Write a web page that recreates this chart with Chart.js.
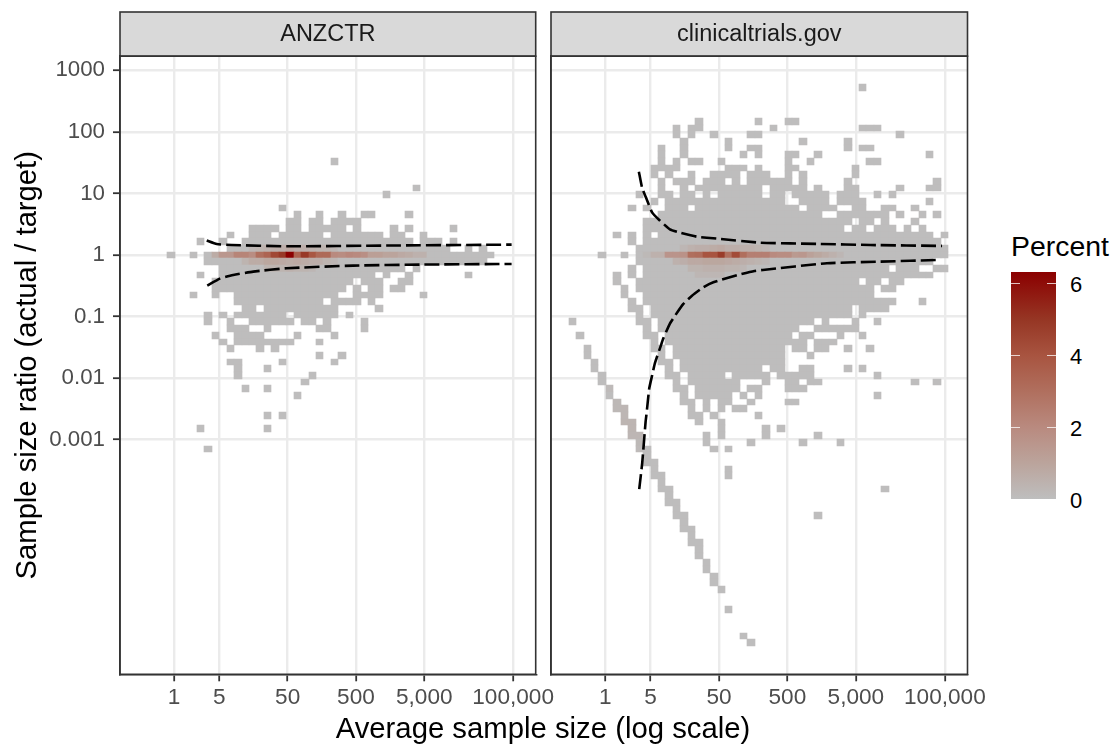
<!DOCTYPE html>
<html>
<head>
<meta charset="utf-8">
<title>Sample size ratio</title>
<script src="https://cdn.jsdelivr.net/npm/chart.js@4/dist/chart.umd.min.js"></script>
<style>
  html, body { margin: 0; background: #fff; overflow: hidden; }
  body { width: 1113px; height: 744px; position: relative; font-family: "Liberation Sans", Arial, sans-serif; }
  .wrap { position: absolute; top: 0; height: 744px; }
  #xTitle { position: absolute; left: 243px; width: 600px; top: 711px; text-align: center; font-size: 29.3px; line-height: 34px; color: #000; }
  #legendTitle { position: absolute; left: 1011px; top: 230px; font-size: 28.4px; line-height: 32px; color: #000; white-space: nowrap; }
  #legendBar { position: absolute; left: 1011px; top: 272px; width: 45px; height: 227px; }
  .lt { position: absolute; width: 9px; height: 1px; background: rgba(255,255,255,.75); }
  .ll { position: absolute; left: 1070px; font-size: 22px; line-height: 26px; color: #000; }
</style>
</head>
<body>
<div class="wrap" style="left:0;width:560px"><canvas id="leftPanel"></canvas></div>
<div class="wrap" style="left:541px;width:460px"><canvas id="rightPanel"></canvas></div>
<div id="xTitle">Average sample size (log scale)</div>
<div id="legendTitle">Percent</div>
<div id="legendBar"></div>
<script>
// tick positions and labels
const xTickValues = [1.09, 5, 50, 500, 5000, 100000];
const xTickLabels = ['1', '5', '50', '500', '5,000', '100,000'];
const yTickValues = [1000, 100, 10, 1, 0.1, 0.01, 0.001];
const yTickLabels = ['1000', '100', '10', '1', '0.1', '0.01', '0.001'];
const xRange = [0.1758, 214000];
const yRange = [1.55e-7, 1687];

// bin grid, in log10 units
const firstColLog = 0.3183, colLog = 0.1088, rowLog = 0.1086;

// occupied bins: [row below ratio 1, columns]
const anzctrRows = [
  [-14,'19'],[-10,'30'],[-9,'26'],[-7,'12'],[-6,'14 17 20 23-24 29'],[-5,'13-14 16-17 19-22'],
  [-4,'8-11 13-14 16-20 22 27 29 35'],[-3,'5 8-10 12-17 19-25 27-28 31'],[-2,'1 4 7-29 31-33 35'],
  [-1,'5-34 37 39'],[0,'-3 0 2-40'],[1,'2-39'],[2,'4-28 30'],[3,'1 4-24 26 29 37'],
  [4,'3-21 23-25 28-29'],[5,'3-20 22 24-25 27-28'],[6,'0 3 6-19 22-25 31'],[7,'6-17 19-22 24'],
  [8,'7-8 10-19 25'],[9,'2 4 6-12 14-19 21'],[10,'2 5 8-13 15-16 18 23'],[11,'5-7 10 17-18 23'],
  [12,'3 6-9 14 19'],[13,'4 6-13 17'],[14,'5 9 11'],[15,'17 20'],[16,'5-6 12 19'],[17,'6 10'],
  [18,'6 16'],[19,'15'],[20,'7 10'],[21,'14'],[24,'10 12'],[26,'1 10'],[29,'2']
];
const clinicalRows = [
  [-25,'32'],[-20,'10 18 22-23'],[-19,'7 9-10 20 32-34'],[-18,'7 9 12 17-18 37'],[-17,'8 14 24 30'],
  [-16,'5 8 14 17-18 30 32-33'],[-15,'5 8 16 18 22-23 26 41'],[-14,'5 7 9-10 13 22 25 33-34'],
  [-13,'4-7 14-16 18 22-23 31'],[-12,'4 6 9 12-15 17-19 22 24 31'],[-11,'5 7-9 11-13 15 17-22 24 30 42'],
  [-10,'5 8 10-18 20-24 26 30-31 37 41-42'],[-9,'2 5-6 8-9 11 13-18 20-21 23-27 29-31 34 36'],
  [-8,'4 6-21 24-27 29-32 41'],[-7,'1 3 6-8 10-23 25-28 31-32 35-36 39'],[-6,'5-26 29-35 37 40 42'],
  [-5,'3-30 32-33 35 39'],[-4,'3-29 31-32 34-36 38 40'],[-3,'-1 1 3 5-41 43'],[-2,'1 3-42'],
  [-1,'2-43'],[0,'-3 0 2-43'],[1,'2-41'],[2,'1 3-35 37-39 42-43'],[3,'-1 1 3-41'],
  [4,'-1 2-31 33-34 36-37'],[5,'0 2-33 35-36'],[6,'0 3-33'],[7,'1 3-36 40'],[8,'1-2 4-30 32-35'],
  [9,'2 4-30 32'],[10,'-7 2-3 5-25 27 31 34'],[11,'3 5-23 26-31'],[12,'-6 3-4 6-22 24-25 29 32'],
  [13,'4 6-24 26-28'],[14,'-5 4-5 7-21 23-24 26-27 30 33'],[15,'-5 5 7-21 25'],[16,'-4 5-6 8-21'],
  [17,'-4 6 8-18 20-21 24-25 30 32'],[18,'-3 6-7 9-13 15-19 21-25 34'],[19,'-3 7 9-15 19 22-23 25-26 39 42'],
  [20,'-2 7-8 10-15 17-18 22-24'],[21,'-2 8 10-14 16 18 34'],[22,'-1 8-9 11 13-14 17 22-23'],
  [23,'-1 0 9 11 13 15-16'],[24,'0 9-10 12 18'],[25,'0-1 10 13'],[26,'1 13 19 21'],[27,'1-2 11 13 19 26'],
  [28,'2 11 17 24 29'],[29,'2-3 12 14'],[30,'3'],[31,'3-4'],[32,'4 14'],[33,'4-5 14'],[34,'5'],
  [35,'5-6 35'],[36,'6'],[37,'6-7'],[38,'7'],[39,'7-8 26'],[40,'8'],[41,'8-9'],[42,'9'],[43,'9-10'],
  [44,'10'],[45,'10'],[46,'11'],[47,'11'],[48,'12'],[49,'12'],[50,'13'],[53,'14'],[57,'16'],[58,'17']
];

// percent in the warmer bins: [row, first column, values]; other occupied bins are close to zero
const anzctrShade = [
  [0, 3, [0.7,1.5,1.5,2.2,2.2,1.9,3,3.4,4.4,4.9,6.3,3.5,4.9,3.9,3.2,3.2,2,1.9,2.1,2,1.8,1.2,1.2,1,1,0.8,0.7,0.5,0.5]],
  [-1, 8, [0.3,0.4,0.5,0.6,0.6,0.8,0.6,0.6,0.5,0.4,0.4,0.3]],
  [1, 7, [0.4,0.7,0.7,0.9,0.9,0.8,0.7,0.8,0.7,0.6,0.6,0.4,0.3]],
  [2, 10, [0.4,0.4,0.4,0.5,0.4,0.4,0.3]]
];
const clinicalShade = [
  [0, 3, [0.2,0.5,0.5,1.6,1.6,1.7,3,3.1,4,4,4.8,3,4.3,3,2.4,2.4,2.4,2,1.9,1.9,1.4,1.5,1.1,0.9,0.7,0.5,0.3]],
  [-1, 8, [0.3,0.5,0.6,0.6,0.7,0.8,0.6,0.6,0.5,0.5,0.4,0.3]],
  [1, 7, [0.5,0.6,0.8,0.8,0.9,0.9,0.9,0.8,0.7,0.6,0.5,0.4,0.3]],
  [2, 9, [0.4,0.4,0.5,0.5,0.5,0.4,0.4,0.3]],
  [3, 10, [0.3,0.3,0.3,0.3]],
  [20, -2, [0.15]],[22, -1, [0.25]],[23, -1, [0.25,0.3]],[24, 0, [0.3]],[25, 0, [0.35,0.35]],
  [26, 1, [0.35]],[27, 1, [0.3,0.3]],[28, 2, [0.2]],[29, 2, [0.15]]
];

// dashed limits
const anzctrUpperX = [3.27, 4.58, 7.6, 48.5, 1412, 95000];
const anzctrUpperY = [1.71, 1.50, 1.45, 1.38, 1.42, 1.47];
const anzctrLowerX = [3.33, 5.1, 8, 15.7, 48.5, 458, 4335, 95000];
const anzctrLowerY = [0.318, 0.412, 0.473, 0.536, 0.608, 0.671, 0.697, 0.714];
const clinicalUpperX = [3.38, 3.78, 4.28, 5.3, 6.7, 9.6, 13.5, 23.7, 46.5, 200, 1510, 8130, 91000];
const clinicalUpperY = [22.5, 12.1, 8.65, 4.85, 3.7, 2.61, 2.3, 1.98, 1.84, 1.58, 1.51, 1.45, 1.40];
const clinicalLowerX = [3.42, 3.78, 4.24, 4.39, 4.79, 5.3, 5.8, 7, 7.7, 9.6, 11.6, 15.1, 20, 29.6, 41.4, 94, 165, 219, 1890, 11400, 86000];
const clinicalLowerY = [0.000157, 0.000417, 0.00197, 0.00272, 0.0068, 0.0113, 0.0175, 0.0324, 0.0442, 0.0767, 0.106, 0.16, 0.216, 0.299, 0.36, 0.473, 0.55, 0.57, 0.733, 0.778, 0.83];

// colour ramp
const rampValues = [0, 1, 2, 3, 4, 5, 6.32];
const rampColours = ['#bebebe', '#bba49c', '#b98a7f', '#b06f5e', '#a85440', '#963624', '#8b0000'];
const legendTicks = [0, 2, 4, 6];
const coolBinPercent = 0.04;

function hexToRgb(h) {
  return [1, 3, 5].map(i => parseInt(h.slice(i, i + 2), 16));
}
function percentColour(v) {
  for (let i = 1; i < rampValues.length; i++) {
    if (v <= rampValues[i]) {
      const t = (v - rampValues[i - 1]) / (rampValues[i] - rampValues[i - 1]);
      const a = hexToRgb(rampColours[i - 1]), b = hexToRgb(rampColours[i]);
      return 'rgb(' + a.map((c, k) => Math.round(c + (b[k] - c) * t)).join(',') + ')';
    }
  }
  return rampColours[rampColours.length - 1];
}

function buildCells(rows, shade) {
  const shades = {};
  shade.forEach(([row, first, values]) => {
    values.forEach((v, i) => { shades[row + ',' + (first + i)] = v; });
  });
  const cells = [];
  rows.forEach(([row, spec]) => {
    spec.split(' ').forEach(part => {
      const m = part.match(/^(-?\d+)(?:-(-?\d+))?$/);
      const from = +m[1], to = m[2] === undefined ? from : +m[2];
      for (let c = from; c <= to; c++) {
        const mid = firstColLog + c * colLog;
        cells.push({
          x: Math.pow(10, mid),
          y: [Math.pow(10, -(row + 0.5) * rowLog), Math.pow(10, -(row - 0.5) * rowLog)],
          v: shades[row + ',' + c] || coolBinPercent
        });
      }
    });
  });
  return cells;
}

function zipLine(xs, ys) {
  return xs.map((x, i) => ({ x: x, y: ys[i] }));
}

// whole-pixel cell edges so neighbouring bins do not show seams
const snapBins = {
  id: 'snapBins',
  beforeDatasetsDraw(chart) {
    chart.getDatasetMeta(0).data.forEach(el => {
      const left = Math.round(el.x - el.width / 2), right = Math.round(el.x + el.width / 2);
      el.x = (left + right) / 2;
      el.width = right - left;
      el.y = Math.round(el.y);
      el.base = Math.round(el.base);
    });
  }
};

// panel frame and facet strip
const frame = {
  id: 'frame',
  beforeDraw(chart) {
    const a = chart.chartArea, c = chart.ctx;
    c.save();
    c.fillStyle = '#d9d9d9';
    c.fillRect(a.left, 12, a.right - a.left, a.top - 12);
    c.restore();
  },
  afterDatasetsDraw(chart) {
    const a = chart.chartArea, c = chart.ctx;
    c.save();
    c.strokeStyle = '#333333';
    c.lineWidth = 1.6;
    c.strokeRect(a.left, 12, a.right - a.left, a.top - 12);
    c.strokeRect(a.left, a.top, a.right - a.left, a.bottom - a.top);
    c.restore();
  }
};

function makePanel(id, name, rows, shade, upper, lower, showY, padding) {
  const dash = pts => ({
    type: 'line', data: pts, order: 1, borderColor: '#000', borderWidth: 2.6,
    borderDash: [15, 5], pointRadius: 0, tension: 0.15, fill: false
  });
  return new Chart(document.getElementById(id), {
    type: 'bar',
    plugins: [snapBins, frame],
    data: {
      datasets: [
        {
          data: buildCells(rows, shade), order: 2, grouped: false,
          barPercentage: 1, categoryPercentage: 1,
          backgroundColor: ctx => percentColour(ctx.raw.v)
        },
        dash(upper), dash(lower)
      ]
    },
    options: {
      responsive: false,
      animation: false,
      events: [],
      layout: { padding: padding },
      plugins: {
        legend: { display: false },
        tooltip: { enabled: false },
        title: {
          display: true, text: name, fullSize: false, color: '#1a1a1a',
          font: { family: 'Liberation Sans', size: 23.5, weight: 'normal', lineHeight: 1.2 },
          padding: { top: 8, bottom: 8 }
        }
      },
      scales: {
        x: {
          type: 'logarithmic', min: xRange[0], max: xRange[1], offset: false,
          afterBuildTicks: s => { s.ticks = xTickValues.map(v => ({ value: v })); },
          afterFit: s => { s.height = 34; s.paddingLeft = 0; s.paddingRight = 0; },
          grid: { offset: false, color: '#ebebeb', lineWidth: 2.4, tickColor: '#333333', tickWidth: 1.8, tickLength: 7 },
          border: { color: '#333333', width: 1.6 },
          ticks: {
            autoSkip: false, maxRotation: 0, padding: 3, color: '#4d4d4d',
            font: { family: 'Liberation Sans', size: 22.6 },
            callback: (v, i) => xTickLabels[i]
          }
        },
        y: {
          type: 'logarithmic', min: yRange[0], max: yRange[1],
          afterBuildTicks: s => { s.ticks = yTickValues.map(v => ({ value: v })); },
          afterFit: s => { s.width = showY ? 120 : 0; s.paddingTop = 0; s.paddingBottom = 0; },
          grid: { color: '#ebebeb', lineWidth: 2.4, tickColor: '#333333', tickWidth: 1.8, tickLength: 7, drawTicks: showY },
          border: { color: '#333333', width: 1.6 },
          title: {
            display: showY, text: 'Sample size ratio (actual / target)', color: '#000',
            font: { family: 'Liberation Sans', size: 29.2 }, padding: { top: 10, bottom: 0 }
          },
          ticks: {
            display: showY, autoSkip: false, padding: 8, color: '#4d4d4d',
            font: { family: 'Liberation Sans', size: 22.3 },
            callback: (v, i) => yTickLabels[i]
          }
        }
      }
    }
  });
}

function sizeCanvas(id, w, h) {
  const c = document.getElementById(id);
  c.width = w; c.height = h;
  c.style.width = w + 'px'; c.style.height = h + 'px';
}
sizeCanvas('leftPanel', 560, 744);
sizeCanvas('rightPanel', 460, 744);

makePanel('leftPanel', 'ANZCTR', anzctrRows, anzctrShade,
  zipLine(anzctrUpperX, anzctrUpperY), zipLine(anzctrLowerX, anzctrLowerY),
  true, { left: 0, right: 24.3, top: 12, bottom: 35.7 });
makePanel('rightPanel', 'clinicaltrials.gov', clinicalRows, clinicalShade,
  zipLine(clinicalUpperX, clinicalUpperY), zipLine(clinicalLowerX, clinicalLowerY),
  false, { left: 10, right: 33.5, top: 12, bottom: 35.7 });

// colour legend
const bar = document.getElementById('legendBar');
const stops = rampValues.map((v, i) => rampColours[i] + ' ' + (v / 6.32 * 100).toFixed(1) + '%');
bar.style.background = 'linear-gradient(to top,' + stops.join(',') + ')';
legendTicks.forEach(t => {
  const y = 227 - t / 6.32 * 227;
  [0, 36].forEach(left => {
    const m = document.createElement('div');
    m.className = 'lt';
    m.style.left = left + 'px';
    m.style.top = (y - 0.5) + 'px';
    bar.appendChild(m);
  });
  const l = document.createElement('div');
  l.className = 'll';
  l.textContent = t;
  l.style.top = (272 + y - 11.5) + 'px';
  document.body.appendChild(l);
});
</script>
</body>
</html>
